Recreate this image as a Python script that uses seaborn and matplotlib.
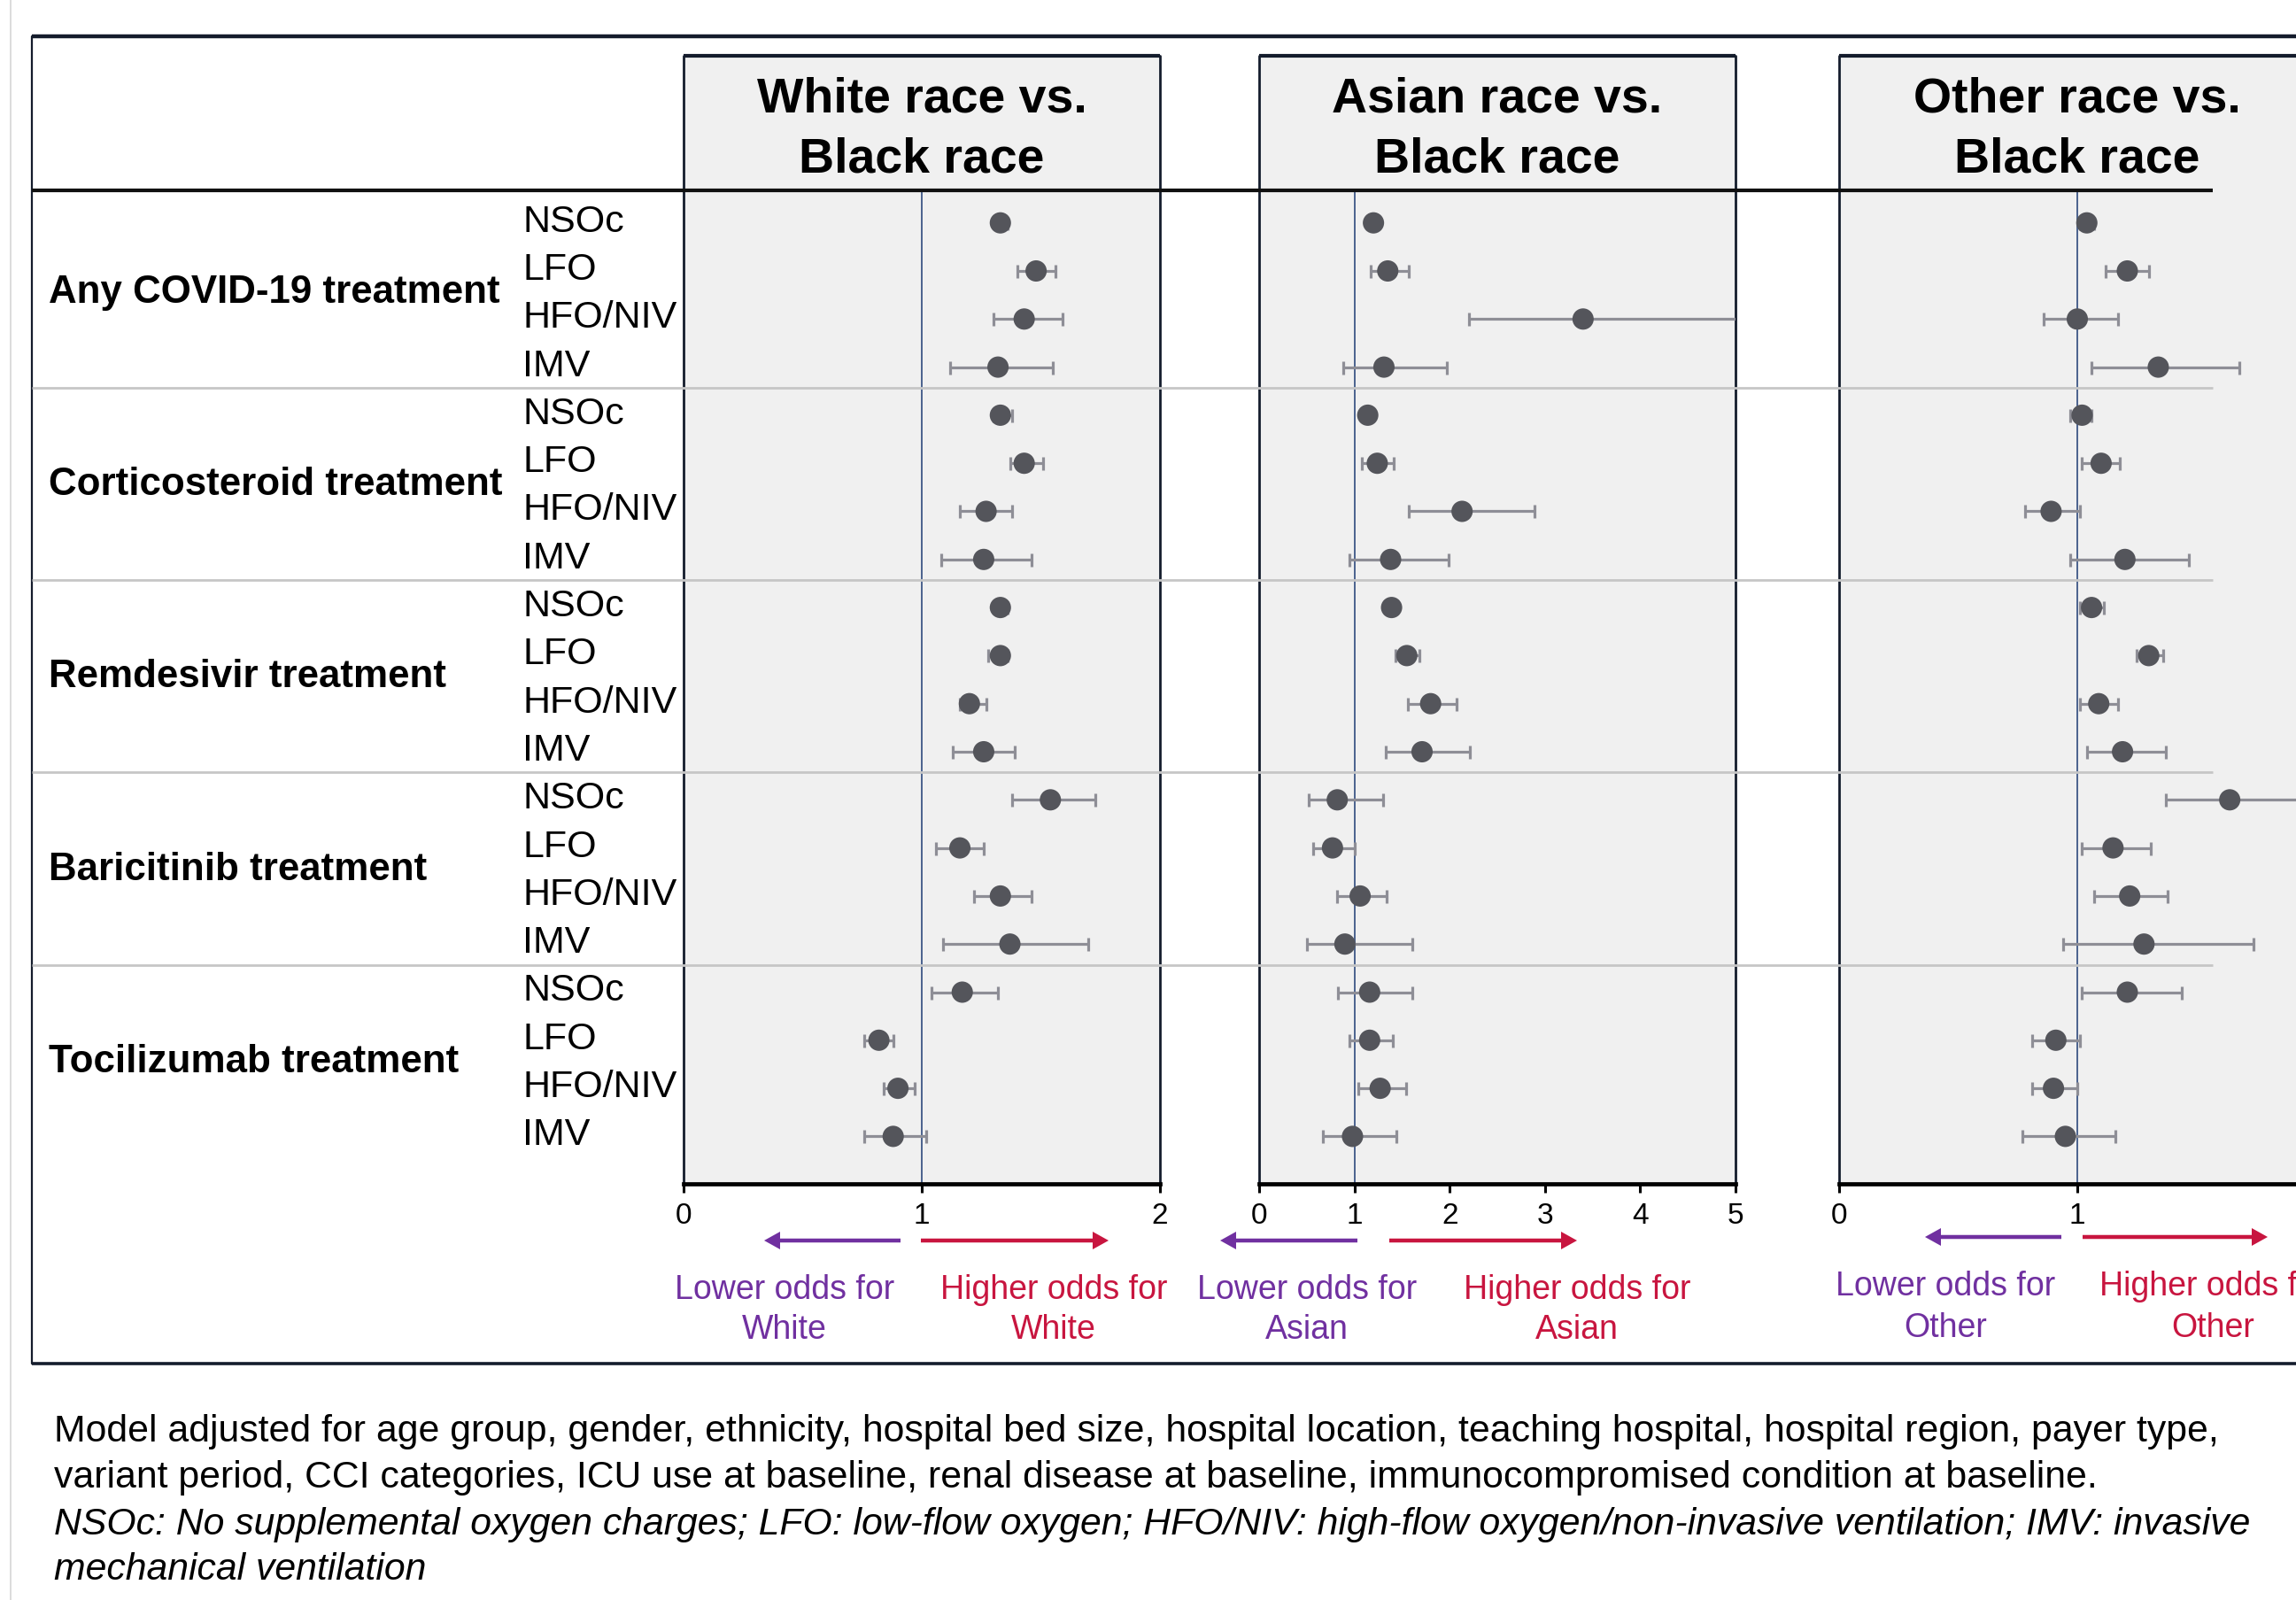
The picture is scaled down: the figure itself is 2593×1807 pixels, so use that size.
import numpy as np
import pandas as pd
import matplotlib
matplotlib.use("Agg")
import matplotlib.pyplot as plt
import matplotlib.transforms as mtransforms
from matplotlib.patches import Rectangle, FancyArrow
import seaborn as sns

# ---------------- data ----------------
treatments = ["Any COVID-19 treatment", "Corticosteroid treatment", "Remdesivir treatment",
              "Baricitinib treatment", "Tocilizumab treatment"]
oxygen_levels = ["NSOc", "LFO", "HFO/NIV", "IMV"]
comparison_titles = [("White race vs.", "Black race"), ("Asian race vs.", "Black race"),
                     ("Other race vs.", "Black race")]
compared_groups = ["White", "Asian", "Other"]
x_ticks = [[0, 1, 2], [0, 1, 2, 3, 4, 5], [0, 1]]
x_max = [2, 5, 2]

white_or = [1.33, 1.48, 1.43, 1.32, 1.33, 1.43, 1.27, 1.26, 1.33, 1.33, 1.20, 1.26, 1.54, 1.16, 1.33, 1.37, 1.17, 0.82, 0.90, 0.88]
white_lo = [1.31, 1.40, 1.30, 1.12, 1.30, 1.37, 1.16, 1.08, 1.31, 1.28, 1.16, 1.13, 1.38, 1.06, 1.22, 1.09, 1.04, 0.76, 0.84, 0.76]
white_hi = [1.36, 1.56, 1.59, 1.55, 1.38, 1.51, 1.38, 1.46, 1.36, 1.36, 1.27, 1.39, 1.73, 1.26, 1.46, 1.70, 1.32, 0.88, 0.97, 1.02]

asian_or = [1.20, 1.35, 3.40, 1.31, 1.14, 1.24, 2.13, 1.38, 1.39, 1.55, 1.80, 1.71, 0.82, 0.77, 1.06, 0.90, 1.16, 1.16, 1.27, 0.98]
asian_lo = [1.15, 1.17, 2.20, 0.88, 1.10, 1.08, 1.57, 0.95, 1.35, 1.43, 1.56, 1.33, 0.52, 0.57, 0.82, 0.50, 0.83, 0.95, 1.04, 0.67]
asian_hi = [1.24, 1.57, 5.60, 1.97, 1.19, 1.41, 2.89, 1.99, 1.43, 1.68, 2.07, 2.21, 1.30, 1.00, 1.34, 1.61, 1.61, 1.40, 1.54, 1.44]

other_or = [1.04, 1.21, 1.00, 1.34, 1.02, 1.10, 0.89, 1.20, 1.06, 1.30, 1.09, 1.19, 1.64, 1.15, 1.22, 1.28, 1.21, 0.91, 0.90, 0.95]
other_lo = [1.01, 1.12, 0.86, 1.06, 0.97, 1.02, 0.78, 0.97, 1.01, 1.25, 1.01, 1.04, 1.37, 1.02, 1.07, 0.94, 1.02, 0.81, 0.81, 0.77]
other_hi = [1.07, 1.30, 1.17, 1.68, 1.06, 1.18, 1.01, 1.47, 1.11, 1.36, 1.17, 1.37, 2.05, 1.31, 1.38, 1.74, 1.44, 1.01, 1.00, 1.16]

footnote_lines = [
    ("Model adjusted for age group, gender, ethnicity, hospital bed size, hospital location, teaching hospital, hospital region, payer type,", "normal"),
    ("variant period, CCI categories, ICU use at baseline, renal disease at baseline, immunocompromised condition at baseline.", "normal"),
    ("NSOc: No supplemental oxygen charges; LFO: low-flow oxygen; HFO/NIV: high-flow oxygen/non-invasive ventilation; IMV: invasive", "italic"),
    ("mechanical ventilation", "italic"),
]

rows = []
for g, (ors, los, his) in zip(compared_groups, [(white_or, white_lo, white_hi),
                                                 (asian_or, asian_lo, asian_hi),
                                                 (other_or, other_lo, other_hi)]):
    k = 0
    for t in treatments:
        for o in oxygen_levels:
            rows.append(dict(group=g, treatment=t, oxygen=o, row=k,
                             OR=ors[k], lo=los[k], hi=his[k]))
            k += 1
df = pd.DataFrame(rows)
n_rows = len(treatments) * len(oxygen_levels)

# ---------------- style ----------------
sns.set_theme(style="white")
plt.rcParams['font.family'] = ['Liberation Sans', 'DejaVu Sans']

W, H = 2593, 1807
DPI = 100
fig = plt.figure(figsize=(W / DPI, H / DPI), dpi=DPI, facecolor="white")

PANEL_LEFT = [772, 1422, 2077]
PANEL_W = 538
PANEL_TOP, PANEL_BOT = 215, 1337
ROW0, STEP = 251.7, 54.3
y_top = -(ROW0 - PANEL_TOP) / STEP
y_bot = (n_rows - 1) + (PANEL_BOT - (ROW0 + (n_rows - 1) * STEP)) / STEP

BG = "#F0F0F0"
DARK = "#141C2C"
POINT = "#54555B"
ERR = "#8E8E96"
REF = "#2E4A7D"
PURPLE = "#7030A0"
RED = "#C8153F"

axes = []
for i, g in enumerate(compared_groups):
    left = PANEL_LEFT[i]
    right = min(left + PANEL_W, W)
    w = right - left
    ax = fig.add_axes([left / W, 1 - PANEL_BOT / H, w / W, (PANEL_BOT - PANEL_TOP) / H], zorder=1)
    ax.set_facecolor(BG)
    sub = df[df.group == g]
    ax.axvline(1, color=REF, lw=1.2, zorder=2)
    ax.errorbar(sub.OR, sub.row, xerr=[sub.OR - sub.lo, sub.hi - sub.OR], fmt="none",
                ecolor=ERR, elinewidth=2.3, capsize=5.4, capthick=2.3, zorder=3)
    sns.scatterplot(data=sub, x="OR", y="row", ax=ax, s=300, color=POINT,
                    edgecolor="none", linewidth=0, zorder=4, legend=False)
    ax.set_xlim(0, x_max[i] * w / PANEL_W)
    ax.set_ylim(y_bot, y_top)
    ax.set_xlabel("")
    ax.set_ylabel("")
    ax.set_yticks([])
    ax.set_xticks(x_ticks[i])
    ax.set_xticklabels([str(v) for v in x_ticks[i]])
    ax.tick_params(axis="x", direction="out", length=7, width=2.2, color="black",
                   labelsize=24, pad=8, labelcolor="black", bottom=True)
    ax.spines["top"].set_visible(False)
    ax.spines["bottom"].set_color("black")
    ax.spines["bottom"].set_linewidth(3.4)
    for s in ["left", "right"]:
        ax.spines[s].set_color(DARK)
        ax.spines[s].set_linewidth(2.0)
    if right < left + PANEL_W:
        ax.spines["right"].set_visible(False)
    axes.append(ax)

# ---------------- frame / layout overlay ----------------
fax = fig.add_axes([0, 0, 1, 1], zorder=5)
fax.set_xlim(0, W)
fax.set_ylim(H, 0)
fax.axis("off")
fax.patch.set_alpha(0)
blend = mtransforms.blended_transform_factory(fax.transData, axes[0].transData)

# poster left edge
fax.plot([12, 12], [0, H], color="#D5D5D5", lw=1.2)
# outer box
fax.plot([36, W], [41, 41], color=DARK, lw=3.2, solid_capstyle="butt")
fax.plot([36, 36], [41, 1540], color=DARK, lw=1.6)
fax.plot([36, W], [1540, 1540], color=DARK, lw=2.6, solid_capstyle="butt")

# header boxes
for i, (l1, l2) in enumerate(comparison_titles):
    left = PANEL_LEFT[i]
    right = min(left + PANEL_W, W)
    fax.add_patch(Rectangle((left, 63), right - left, PANEL_TOP - 63, facecolor=BG,
                            edgecolor="none", zorder=0))
    fax.plot([left, right], [63, 63], color=DARK, lw=3.0, solid_capstyle="butt")
    fax.plot([left, left], [63, PANEL_TOP], color=DARK, lw=2.0)
    if right == left + PANEL_W:
        fax.plot([right, right], [63, PANEL_TOP], color=DARK, lw=2.0)
    cx = left + PANEL_W / 2
    fax.text(cx, 112, l1, ha="center", va="center", fontsize=40, fontweight="bold", color="black")
    fax.text(cx, 180, l2, ha="center", va="center", fontsize=40, fontweight="bold", color="black")

# header bottom line
fax.plot([36, 2499], [PANEL_TOP, PANEL_TOP], color="#111111", lw=3.0, solid_capstyle="butt")

# group separators and labels
n_ox = len(oxygen_levels)
for j, t in enumerate(treatments):
    if j > 0:
        fax.plot([36, 2499], [j * n_ox - 0.57, j * n_ox - 0.57], transform=blend,
                 color="#C6C6C6", lw=2.0, solid_capstyle="butt")
    fax.text(55, j * n_ox + 1.45, t, transform=blend, ha="left", va="center",
             fontsize=31.6, fontweight="bold", color="black")
    for m, o in enumerate(oxygen_levels):
        fax.text(590, j * n_ox + m - 0.02, o, transform=blend, ha="left", va="center",
                 fontsize=31, color="black")

# arrows + direction labels
arrow_y = [1401, 1401, 1397]
txt_y = [(1457, 1502), (1457, 1502), (1453, 1500)]
arrows = [((1017, 863), (1040, 1252)), ((1533, 1378), (1569, 1781)), ((2328, 2174), (2352, 2561))]
txt_x = [(886, 1190), (1476, 1781), (2197, 2499)]
for i, g in enumerate(compared_groups):
    (pt, ph), (rt, rh) = arrows[i]
    fax.add_patch(FancyArrow(pt, arrow_y[i], ph - pt, 0, width=4.5, head_width=20, head_length=18,
                             length_includes_head=True, color=PURPLE, lw=0))
    fax.add_patch(FancyArrow(rt, arrow_y[i], rh - rt, 0, width=4.5, head_width=20, head_length=18,
                             length_includes_head=True, color=RED, lw=0))
    lx, hx = txt_x[i]
    y1, y2 = txt_y[i]
    fax.text(lx, y1, "Lower odds for", ha="center", va="center", fontsize=27, color=PURPLE)
    fax.text(lx, y2, g, ha="center", va="center", fontsize=27, color=PURPLE)
    fax.text(hx, y1, "Higher odds for", ha="center", va="center", fontsize=27, color=RED)
    fax.text(hx, y2, g, ha="center", va="center", fontsize=27, color=RED)

# footnote
for (line, style), y in zip(footnote_lines, [1617, 1669, 1722, 1773]):
    fax.text(61, y, line, ha="left", va="center", fontsize=30.8, fontstyle=style, color="black")

fig.savefig("out.png", dpi=DPI, facecolor="white")
